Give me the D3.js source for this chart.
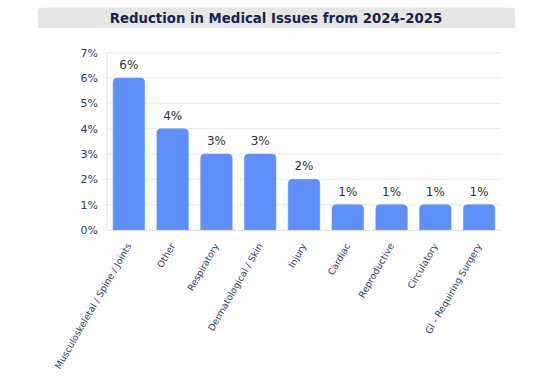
<!DOCTYPE html>
<html>
<head>
<meta charset="utf-8">
<script src="https://cdn.jsdelivr.net/npm/d3@7"></script>
<style>
  body { margin: 0; background: #fff; }
  svg text { font-family: "DejaVu Sans", Verdana, sans-serif; }
</style>
</head>
<body>
<div id="chart"></div>
<script>
const chartTitle = "Reduction in Medical Issues from 2024-2025";
const categories = ["Musculoskeletal / Spine / Joints", "Other", "Respiratory", "Dermatological / Skin",
    "Injury", "Cardiac", "Reproductive", "Circulatory", "GI - Requiring Surgery"];
const values = [6, 4, 3, 3, 2, 1, 1, 1, 1];
const yTicks = [0, 1, 2, 3, 4, 5, 6, 7];

const width = 558, height = 390;
const margin = {top: 52.7, right: 57, bottom: 160, left: 107};
const innerW = width - margin.left - margin.right;
const innerH = height - margin.top - margin.bottom;

let svg = d3.select("#chart")
    .append("svg")
    .attr("width", width)
    .attr("height", height);

// title banner
svg.append("path")
    .attr("d", "M38,28 L38,11.5 Q38,7.5 42,7.5 L511,7.5 Q515,7.5 515,11.5 L515,28 Z")
    .attr("fill", "#e6e6e6");

svg.append("text")
    .attr("x", 276)
    .attr("y", 23)
    .attr("text-anchor", "middle")
    .style("font-size", "13.3px")
    .style("font-weight", "bold")
    .attr("fill", "#1a2352")
    .text(chartTitle);

let g = svg.append("g")
    .attr("transform", `translate(${margin.left}, ${margin.top})`);

let x = d3.scaleBand()
    .domain(categories)
    .range([0, innerW])
    .paddingInner(0.28)
    .paddingOuter(0.14);

let y = d3.scaleLinear()
    .domain([0, 7])
    .range([innerH, 0]);

// gridlines
g.append("g")
    .selectAll("line")
    .data(yTicks)
    .enter()
    .append("line")
    .attr("x1", 0)
    .attr("x2", innerW)
    .attr("y1", d => y(d))
    .attr("y2", d => y(d))
    .attr("stroke", "#ebebeb")
    .attr("stroke-width", 1);

// left axis line
g.append("line")
    .attr("x1", 0).attr("x2", 0)
    .attr("y1", 0).attr("y2", innerH)
    .attr("stroke", "#e3e3e3");

let yAxis = g.append("g")
    .call(d3.axisLeft(y).tickValues(yTicks).tickFormat(d => d + "%").tickSize(0).tickPadding(9));
yAxis.select(".domain").remove();
yAxis.selectAll("text")
    .style("font-size", "11px")
    .style("font-family", "DejaVu Sans, sans-serif")
    .attr("fill", "#2c3a69");

// bars with rounded tops
const r = 4;
g.append("g")
    .selectAll("path")
    .data(values)
    .enter()
    .append("path")
    .attr("d", function(d, i) {
        let x0 = x(categories[i]), w = x.bandwidth();
        let y0 = y(d), y1 = y(0);
        return `M${x0},${y1} L${x0},${y0 + r} Q${x0},${y0} ${x0 + r},${y0} ` +
            `L${x0 + w - r},${y0} Q${x0 + w},${y0} ${x0 + w},${y0 + r} L${x0 + w},${y1} Z`;
    })
    .attr("fill", "#5f8ff8")
    .attr("stroke", "#6b98f9")
    .attr("stroke-width", 0.6);

// value labels
g.append("g")
    .selectAll("text")
    .data(values)
    .enter()
    .append("text")
    .attr("x", (d, i) => x(categories[i]) + x.bandwidth() / 2)
    .attr("y", d => y(d) - 9)
    .attr("text-anchor", "middle")
    .style("font-size", "12px")
    .attr("fill", "#333")
    .text(d => d + "%");

// bottom axis
let xAxis = g.append("g")
    .attr("transform", `translate(0, ${innerH})`)
    .call(d3.axisBottom(x).tickSize(0).tickPadding(0));
xAxis.select(".domain").attr("stroke", "#e3e3e3");
xAxis.selectAll("text")
    .attr("text-anchor", "end")
    .attr("transform", "translate(0, 14) rotate(-60)")
    .attr("dy", "0.35em")
    .attr("y", 0)
    .style("font-size", "9.3px")
    .style("font-family", "DejaVu Sans, sans-serif")
    .attr("fill", "#2c3a69");
</script>
</body>
</html>
